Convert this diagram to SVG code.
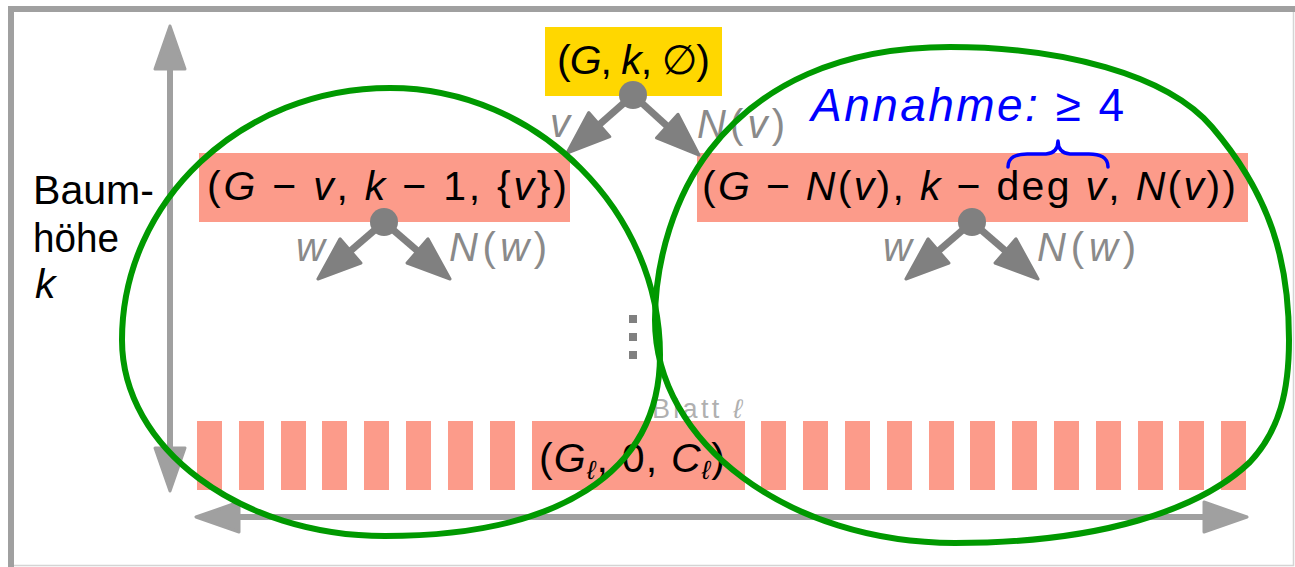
<svg xmlns="http://www.w3.org/2000/svg" width="1295" height="567" viewBox="0 0 1295 567">
<style>
.m{font-family:"Liberation Sans","DejaVu Sans",sans-serif;font-size:41px;fill:#000}
.i{font-style:italic}
.lbl{font-family:"Liberation Sans","DejaVu Sans",sans-serif;font-size:40px;fill:#8a8a8a}
.pink{fill:#fc9b8a}
.conn{stroke:#808080;stroke-width:7;fill:none;marker-end:url(#ah)}
.dot{fill:#808080}
.blob{fill:none;stroke:#009900;stroke-width:6}
</style>
<defs>
<marker id="ah" markerUnits="userSpaceOnUse" viewBox="-48 -20 50 40" markerWidth="50" markerHeight="40" refX="-43" refY="0" orient="auto">
<path d="M0,0 L-43,-16 L-43,16 Z" fill="#808080" stroke="#808080" stroke-width="3" stroke-linejoin="round"/>
</marker>
<marker id="ax" markerUnits="userSpaceOnUse" viewBox="-48 -20 50 40" markerWidth="50" markerHeight="40" refX="-43" refY="0" orient="auto-start-reverse">
<path d="M0,0 L-43,-15 L-43,15 Z" fill="#a0a0a0" stroke="#a0a0a0" stroke-width="3" stroke-linejoin="round"/>
</marker>
</defs>
<rect width="1295" height="567" fill="#fff"/>
<g id="frame" fill="none">
<path d="M11,567 V9 H1295" stroke="#a0a0a0" stroke-width="6"/>
<path d="M14,565.5 H1293.5 V12" stroke="#d4d4d4" stroke-width="1.5"/>
</g>
<g id="axes" stroke="#a0a0a0" stroke-width="6" fill="none">
<line x1="170" y1="69" x2="170" y2="448" marker-start="url(#ax)" marker-end="url(#ax)"/>
<line x1="239" y1="517" x2="1204" y2="517" marker-start="url(#ax)" marker-end="url(#ax)"/>
</g>
<g id="axis-label">
<text class="m" x="33" y="204" font-size="35" textLength="121" lengthAdjust="spacingAndGlyphs">Baum-</text>
<text class="m" x="33" y="252" font-size="35" textLength="86" lengthAdjust="spacingAndGlyphs">höhe</text>
<text class="m i" x="35" y="298" font-size="35">k</text>
</g>
<g id="leaves">
<rect class="pink" x="197" y="421" width="25" height="69"/>
<rect class="pink" x="239" y="421" width="25" height="69"/>
<rect class="pink" x="281" y="421" width="25" height="69"/>
<rect class="pink" x="322" y="421" width="25" height="69"/>
<rect class="pink" x="364" y="421" width="25" height="69"/>
<rect class="pink" x="406" y="421" width="25" height="69"/>
<rect class="pink" x="448" y="421" width="25" height="69"/>
<rect class="pink" x="490" y="421" width="25" height="69"/>
<rect class="pink" x="761" y="421" width="25" height="69"/>
<rect class="pink" x="803" y="421" width="25" height="69"/>
<rect class="pink" x="845" y="421" width="25" height="69"/>
<rect class="pink" x="887" y="421" width="25" height="69"/>
<rect class="pink" x="929" y="421" width="25" height="69"/>
<rect class="pink" x="970" y="421" width="25" height="69"/>
<rect class="pink" x="1012" y="421" width="25" height="69"/>
<rect class="pink" x="1054" y="421" width="25" height="69"/>
<rect class="pink" x="1096" y="421" width="25" height="69"/>
<rect class="pink" x="1138" y="421" width="25" height="69"/>
<rect class="pink" x="1179" y="421" width="25" height="69"/>
<rect class="pink" x="1221" y="421" width="25" height="69"/>
</g>
<g id="leaf-l">
<rect class="pink" x="532" y="421" width="213" height="69"/>
<text class="m" x="539" y="472" textLength="186" lengthAdjust="spacing">(<tspan class="i">G</tspan><tspan class="i" font-size="26" dy="7">ℓ</tspan><tspan dy="-7">, 0, </tspan><tspan class="i">C</tspan><tspan class="i" font-size="26" dy="7">ℓ</tspan><tspan dy="-7">)</tspan></text>
<text x="652" y="418" font-family="Liberation Sans, DejaVu Sans, sans-serif" font-size="27" fill="#b0b0b0" textLength="90" lengthAdjust="spacing">Blatt <tspan font-style="italic">ℓ</tspan></text>
</g>
<g id="ellipsis" fill="#808080">
<rect x="629" y="315" width="8" height="8"/>
<rect x="629" y="333" width="8" height="8"/>
<rect x="629" y="351" width="8" height="8"/>
</g>
<g id="root">
<rect x="545" y="27" width="177" height="69" fill="#ffd700"/>
<text class="m" x="557" y="74" textLength="153" lengthAdjust="spacing">(<tspan class="i">G</tspan>, <tspan class="i">k</tspan>, ∅)</text>
</g>
<g id="left-child">
<rect class="pink" x="199" y="153" width="371" height="69"/>
<text class="m" x="207" y="200" textLength="360" lengthAdjust="spacing">(<tspan class="i">G</tspan> − <tspan class="i">v</tspan>, <tspan class="i">k</tspan> − 1, {<tspan class="i">v</tspan>})</text>
</g>
<g id="right-child">
<rect class="pink" x="697" y="153" width="551" height="69"/>
<text class="m" x="702" y="200" textLength="534" lengthAdjust="spacing">(<tspan class="i">G</tspan> − <tspan class="i">N</tspan>(<tspan class="i">v</tspan>), <tspan class="i">k</tspan> − deg <tspan class="i">v</tspan>, <tspan class="i">N</tspan>(<tspan class="i">v</tspan>))</text>
</g>
<g id="annahme">
<text x="811" y="121" font-family="Liberation Sans, DejaVu Sans, sans-serif" font-size="46" fill="#0000ff" textLength="313" lengthAdjust="spacing"><tspan font-style="italic">Annahme:</tspan> ≥ 4</text>
<path d="M1008,167 Q1008,153 1030,154 L1046,154 Q1058,153 1058,141 Q1058,153 1070,154 L1086,154 Q1108,153 1108,167" fill="none" stroke="#0000ff" stroke-width="3.5" stroke-linecap="round" stroke-linejoin="round"/>
</g>
<g id="connectors">
<line class="conn" x1="633" y1="95" x2="599.3" y2="124.6"/>
<line class="conn" x1="633" y1="95" x2="667.2" y2="126.1"/>
<line class="conn" x1="384" y1="222" x2="350.5" y2="250.9"/>
<line class="conn" x1="384" y1="222" x2="417.5" y2="250.9"/>
<line class="conn" x1="972" y1="222" x2="938.5" y2="250.9"/>
<line class="conn" x1="972" y1="222" x2="1005.5" y2="250.9"/>
<circle class="dot" cx="633" cy="95" r="14"/>
<circle class="dot" cx="384" cy="222" r="14"/>
<circle class="dot" cx="972" cy="222" r="14"/>
</g>
<g id="edge-labels">
<text class="lbl i" x="550" y="137">v</text>
<text class="lbl" x="697" y="138" textLength="88" lengthAdjust="spacing"><tspan class="i">N</tspan>(<tspan class="i">v</tspan>)</text>
<text class="lbl i" x="296" y="261">w</text>
<text class="lbl" x="449" y="261" textLength="98" lengthAdjust="spacing"><tspan class="i">N</tspan>(<tspan class="i">w</tspan>)</text>
<text class="lbl i" x="883" y="261">w</text>
<text class="lbl" x="1037" y="261" textLength="99" lengthAdjust="spacing"><tspan class="i">N</tspan>(<tspan class="i">w</tspan>)</text>
</g>
<g id="regions">
<path class="blob" d="M390,88 C242,88 122,201 122,340 C122,448 240,536 385,536 C555,536 660,475 660,355 C660,213 538,88 390,88 Z"/>
<path class="blob" d="M950,47 C840,47 760,85 710,150 C675,195 655,260 655,320 C655,443 789,543 955,543 C1100,543 1200,510 1250,462 C1280,430 1289,390 1289,340 C1289,260 1270,195 1212,127 C1167,74 1060,47 950,47 Z"/>
</g>
</svg>
